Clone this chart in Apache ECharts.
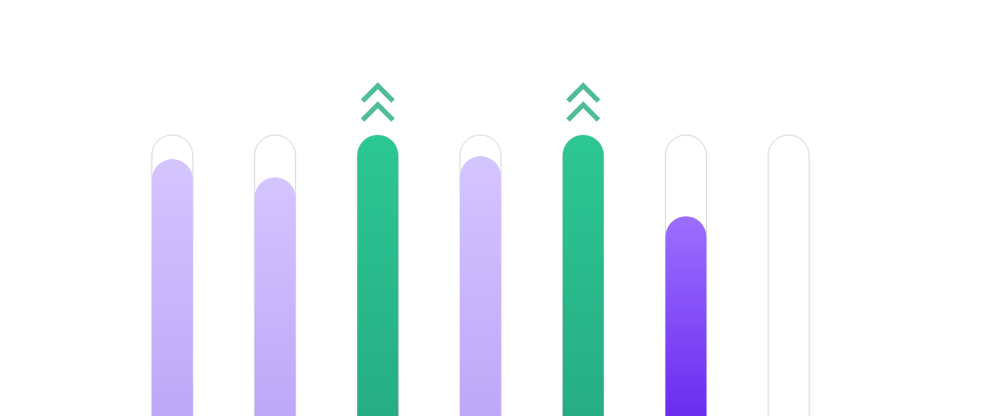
<!DOCTYPE html>
<html>
<head>
<meta charset="utf-8">
<script src="https://cdn.jsdelivr.net/npm/echarts@6/dist/echarts.min.js"></script>
<style>html,body{margin:0;padding:0;background:#fff;overflow:hidden;height:416px}#c{width:1000px;height:436px}</style>
</head>
<body>
<div id="c"></div>
<script>
const categories = ['Mon', 'Tue', 'Wed', 'Thu', 'Fri', 'Sat', 'Sun'];
const values = [92, 86, 100, 93, 100, 73, 0];
const states = ['past', 'past', 'goal', 'past', 'goal', 'current', 'future'];
const maxValue = 100;

const G = echarts.graphic.LinearGradient;
const fills = {
  past: new G(0, 0, 0, 1, [{offset: 0, color: '#d4c5ff'}, {offset: 1, color: '#bca5f7'}]),
  goal: new G(0, 0, 0, 1, [{offset: 0, color: '#2cc793'}, {offset: 1, color: '#26ab83'}]),
  current: new G(0, 0, 0, 1, [{offset: 0, color: '#9c6eff'}, {offset: 1, color: '#6526ee'}]),
  future: 'rgba(0,0,0,0)'
};

const chevron = 'path://M0,17 L17,0 L34,17 L30.5,20.5 L17,7 L3.5,20.5 Z M0,36 L17,19 L34,36 L30.5,39.5 L17,26 L3.5,39.5 Z';

const chart = echarts.init(document.getElementById('c'));
chart.setOption({
  animation: false,
  grid: {left: 121, right: 160, top: 135, bottom: 0},
  xAxis: {type: 'category', data: categories, show: false},
  yAxis: {type: 'value', min: 0, max: maxValue, show: false},
  series: [
    {
      type: 'bar',
      barWidth: 41,
      showBackground: true,
      backgroundStyle: {
        color: '#ffffff',
        borderColor: '#dcdcdc',
        borderWidth: 1,
        borderRadius: [20.5, 20.5, 0, 0],
        shadowColor: 'rgba(0,0,0,0.06)',
        shadowBlur: 2
      },
      data: values.map((v, i) => ({
        value: v,
        itemStyle: {color: fills[states[i]], borderRadius: [20.5, 20.5, 0, 0]}
      }))
    },
    {
      type: 'scatter',
      symbol: chevron,
      symbolSize: [34, 39.5],
      symbolOffset: [0, -33],
      itemStyle: {color: '#26ab7e'},
      z: 5,
      data: values.map((v, i) => states[i] === 'goal' ? [i, v] : null).filter(d => d)
    }
  ]
});
</script>
</body>
</html>
